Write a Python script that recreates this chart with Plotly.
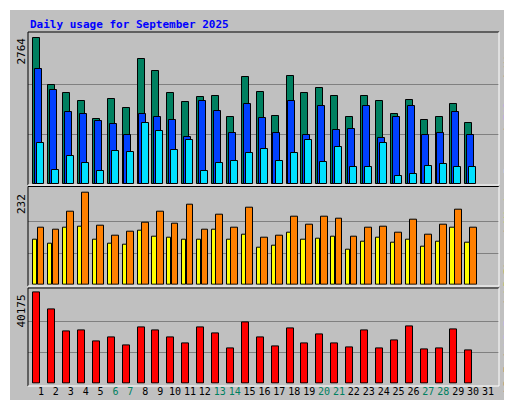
import plotly.graph_objects as go

days = list(range(1, 31))
weekend = [6, 7, 13, 14, 20, 21, 27, 28]
hits = [2736, 1850, 1700, 1550, 1215, 1590, 1425, 2345, 2120, 1700, 1530, 1625, 1645, 1250, 2010, 1720, 1270, 2030, 1700, 1810, 1645, 1255, 1645, 1550, 1305, 1570, 1200, 1250, 1505, 1150]
files = [2160, 1770, 1360, 1320, 1175, 1135, 925, 1320, 1265, 1210, 875, 1560, 1375, 950, 1510, 1230, 950, 1560, 915, 1470, 1005, 1025, 1470, 855, 1265, 1470, 915, 965, 1360, 915]
pages = [760, 270, 530, 400, 250, 625, 605, 1150, 1000, 645, 830, 250, 400, 440, 585, 660, 440, 585, 830, 420, 685, 325, 325, 760, 155, 190, 345, 380, 325, 325]
sites = [142, 139, 184, 232, 149, 124, 134, 157, 184, 154, 202, 139, 176, 142, 193, 117, 124, 171, 151, 171, 166, 121, 144, 146, 131, 164, 126, 151, 189, 144]
visits = [113, 103, 142, 147, 113, 103, 101, 136, 121, 119, 113, 113, 139, 113, 126, 93, 98, 131, 113, 116, 121, 88, 109, 119, 106, 113, 96, 109, 142, 106]
kbf = [40175, 32710, 23030, 23470, 18630, 20390, 16870, 24790, 23470, 20390, 17750, 24790, 22150, 15550, 26990, 20390, 16430, 24350, 17750, 21710, 17750, 15990, 23470, 15550, 19070, 25230, 15110, 15550, 23910, 14670]
day_labels = [str(d) for d in range(1, 32)]

GRAY = "#c0c0c0"
fig = go.Figure()
def bars(x, y, color, off, w, xa, ya):
    fig.add_trace(go.Bar(x=x, y=y, offset=off, width=w, marker=dict(color=color, line=dict(color="black", width=1)),
                         xaxis=xa, yaxis=ya, showlegend=False, hoverinfo="skip"))

bars(days, hits, "#008060", -0.52, 0.47, "x", "y")
bars(days, files, "#0040ff", -0.40, 0.47, "x", "y")
bars(days, pages, "#00e0ff", -0.25, 0.47, "x", "y")
bars(days, sites, "#ff8000", -0.22, 0.45, "x2", "y2")
bars(days, visits, "#ffff00", -0.52, 0.28, "x2", "y2")
bars(days, kbf, "#ff0000", -0.52, 0.47, "x3", "y3")

xr = [0.13, 31.74]
xd = [20/512, 491/512]
ticktext = [f'<span style="color:{"#008060" if int(d) in weekend else "black"}">{d}</span>' for d in day_labels]
common_x = dict(range=xr, domain=xd, showgrid=False, zeroline=False, showline=False, fixedrange=True)
fig.update_layout(
    width=512, height=400, margin=dict(l=0, r=0, t=0, b=0),
    paper_bgcolor=GRAY, plot_bgcolor=GRAY, barmode="overlay", bargap=0,
    font=dict(family="DejaVu Sans Mono", size=11, color="black"),
    xaxis=dict(**common_x, showticklabels=False, anchor="y"),
    xaxis2=dict(**common_x, showticklabels=False, anchor="y2"),
    xaxis3=dict(**common_x, anchor="y3", tickvals=list(range(1, 32)), ticktext=ticktext, ticks="",
                tickangle=0, tickfont=dict(family="DejaVu Sans Mono", size=10), automargin=False),
)
def yax(rng, dom):
    return dict(range=[0, rng], domain=dom, tickvals=[rng/3, 2*rng/3], showticklabels=False, ticks="",
                gridcolor="#808080", gridwidth=1, zeroline=False, showline=False, fixedrange=True)
fig.update_layout(yaxis=yax(2814, [1-176/400, 1-26/400]),
                  yaxis2=yax(238.7, [1-276.7/400, 1-181.7/400]),
                  yaxis3=yax(41055, [1-375.7/400, 1-282.4/400]))

shapes = []
def ln(x0, y0, x1, y1, c, w=1):
    shapes.append(dict(type="line", xref="paper", yref="paper", x0=x0/512, x1=x1/512, y0=1-y0/400, y1=1-y1/400,
                       line=dict(color=c, width=w)))
ln(1, 0, 1, 400, "white", 2); ln(0, 1, 512, 1, "white", 2)
ln(510, 0, 510, 400, "#808080", 3); ln(0, 398, 512, 398, "#808080", 3)
for top, bot in [(24, 177), (178.5, 278), (280, 378)]:
    ln(20, top, 491, top, "black"); ln(20, top, 20, bot, "black")
    ln(491, top, 491, bot, "white"); ln(20, bot, 491, bot, "white")
fig.update_layout(shapes=shapes)

ann = [
    dict(x=20/512, y=1-16/400, text="<b>Daily usage for September 2025</b>", xanchor="left", yanchor="middle",
         font=dict(color="#0000ff", size=11)),
    dict(x=13/512, y=1-28/400, text="2764", textangle=-90, xanchor="center", yanchor="top"),
    dict(x=13/512, y=1-184/400, text="232", textangle=-90, xanchor="center", yanchor="top"),
    dict(x=13/512, y=1-285/400, text="40175", textangle=-90, xanchor="center", yanchor="top"),
    dict(x=500/512, y=1-100/400, textangle=-90, xanchor="center", yanchor="middle",
         text='<span style="color:#00e0ff">Pages</span> / <span style="color:#0040ff">Files</span> / <span style="color:#008060">Hits</span>'),
    dict(x=500/512, y=1-222/400, textangle=-90, xanchor="center", yanchor="middle",
         text='<span style="color:#ff8000">Sites</span> / <span style="color:#ffff00">Visits</span>'),
    dict(x=500/512, y=1-316/400, textangle=-90, xanchor="center", yanchor="middle",
         text='<span style="color:#ff0000">kB F</span> / <span style="color:#0080ff">kB In</span> / <span style="color:#00c000">kB Out</span>'),
]
for a in ann:
    a.setdefault("xref", "paper"); a.setdefault("yref", "paper"); a["showarrow"] = False
fig.update_layout(annotations=ann)
fig.write_html("out.html")
